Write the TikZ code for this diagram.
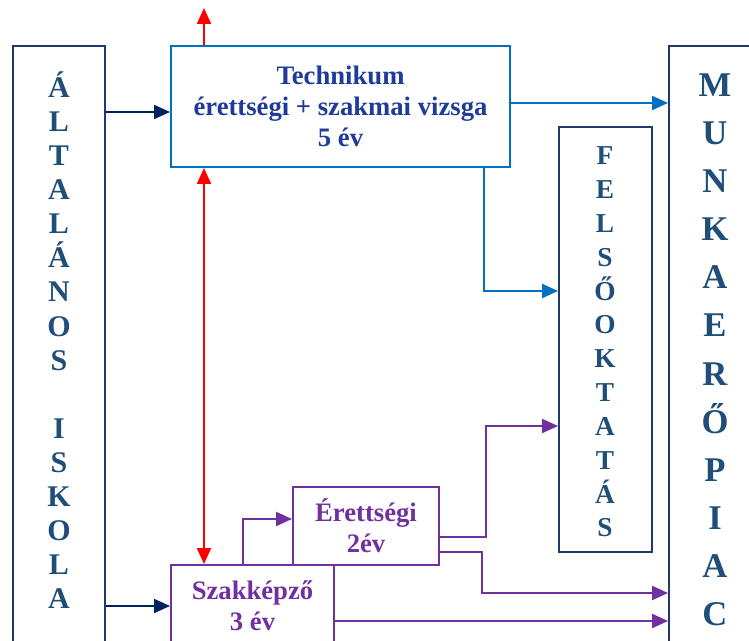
\documentclass[tikz,border=0pt]{standalone}
\usepackage{fontspec}
\setmainfont{Liberation Serif}
\usepackage{tikz}
\usetikzlibrary{shapes,arrows.meta}
\definecolor{navy}{RGB}{31,56,110}
\definecolor{arrownavy}{RGB}{0,32,96}
\definecolor{letterblue}{RGB}{31,78,121}
\definecolor{techblue}{RGB}{0,112,192}
\definecolor{techtext}{RGB}{30,58,155}
\definecolor{lila}{RGB}{112,48,160}
\tikzset{
  >={Triangle[length=12pt,width=10.5pt]},
  NavyBox/.style = {rectangle, draw=navy, line width=1.4pt},
  TechBox/.style = {rectangle, draw=techblue, line width=1.5pt, text=techtext,
                    align=center, font=\fontsize{20}{23}\selectfont\bfseries},
  LilaBox/.style = {rectangle, draw=lila, line width=1.5pt, text=lila,
                    align=center, font=\fontsize{20}{23}\selectfont\bfseries},
  Letter/.style  = {anchor=base, inner sep=0pt, text=letterblue,
                    font=\fontsize{#1}{#1}\selectfont\bfseries}
}

\begin{document}
\begin{tikzpicture}[x=0.75pt,y=-0.75pt]
  \useasboundingbox (0,0) rectangle (749,641);
  \clip (0,0) rectangle (749,641);
  % boxes
  \node[NavyBox, minimum width=69pt, minimum height=475.5pt] (iskola) at (59,363) {};
  \node[NavyBox, minimum width=69.75pt, minimum height=318.75pt] (felso) at (605.5,339.5) {};
  \node[NavyBox, minimum width=98.25pt, minimum height=490.5pt] (piac) at (734.5,373) {};
  \node[TechBox, minimum width=254.25pt, minimum height=90.75pt] (techn) at (340.5,106.5)
    {Technikum\\érettségi + szakmai vizsga\\5 év};
  \node[LilaBox, minimum width=122.25pt, minimum height=61.5pt] (szak) at (252.5,606)
    {Szakképző\\3 év};
  \node[LilaBox, minimum width=109.5pt, minimum height=58.5pt] (eret) at (366,526)
    {Érettségi\\2év};
  % letters in the columns
  \foreach \c [count=\i from 0] in {Á,L,T,A,L,Á,N,O,S}
    \node[Letter=22.5] (isk\i) at (59,98+34*\i) {\c};
  \foreach \c [count=\i from 10] in {I,S,K,O,L,A}
    \node[Letter=22.5] (isk\i) at (59,98+34*\i) {\c};
  \foreach \c [count=\i from 0] in {F,E,L,S,Ő,O,K,T,A,T,Á,S}
    \node[Letter=20.5] (fel\i) at (605,165+33.8*\i) {\c};
  \foreach \c [count=\i from 0] in {M,U,N,K,A,E,R,Ő,P,I,A,C}
    \node[Letter=26] (pi\i) at (715,97+48*\i) {\c};
  \coordinate (redtop) at (204,8);
  % edges
  \tikzstyle{EdgeStyle}=[->, line width=1.5pt, draw=arrownavy]
  \draw[EdgeStyle] (iskola.east |- 0,112) -- (techn.west |- 0,112);
  \draw[EdgeStyle] (iskola.east |- szak.west) -- (szak.west);
  \tikzstyle{EdgeStyle}=[->, line width=1.5pt, draw=red]
  \draw[EdgeStyle] (techn.north -| redtop) -- (redtop);
  \tikzstyle{EdgeStyle}=[<->, line width=1.5pt, draw=red]
  \draw[EdgeStyle] (techn.south -| redtop) -- (szak.north -| redtop);
  \tikzstyle{EdgeStyle}=[->, line width=1.5pt, draw=techblue]
  \draw[EdgeStyle] (techn.east |- 0,103) -- (piac.west |- 0,103);
  \draw[EdgeStyle] (techn.south -| 484,0) |- (felso.west |- 0,291);
  \tikzstyle{EdgeStyle}=[->, line width=1.5pt, draw=lila]
  \draw[EdgeStyle] (szak.north -| 243,0) |- (eret.west |- 0,519);
  \draw[EdgeStyle] (eret.east |- 0,537) -- (486,537) |- (felso.west |- 0,426);
  \draw[EdgeStyle] (eret.east |- 0,552) -- (482,552) |- (piac.west |- 0,593);
  \draw[EdgeStyle] (szak.east |- 0,621) -- (piac.west |- 0,621);
\end{tikzpicture}
\end{document}
